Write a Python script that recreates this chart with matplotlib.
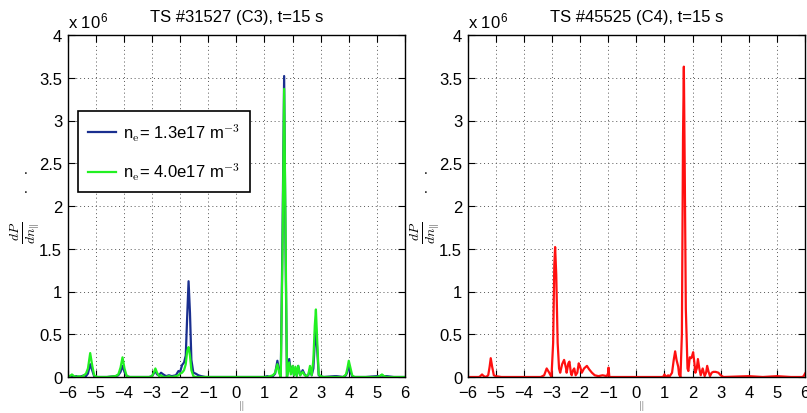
import numpy as np
import matplotlib
matplotlib.use('Agg')
import matplotlib.pyplot as plt

plt.rcParams['font.family'] = ['Liberation Sans', 'DejaVu Sans']
plt.rcParams['mathtext.fontset'] = 'cm'

# ---- data (power spectra, units of 1e6) ----
npar_c3 = [-6.0, -5.92, -5.85, -5.78, -5.7, -5.6, -5.5, -5.42, -5.35, -5.28,
           -5.2, -5.13, -5.06, -4.95, -4.6, -4.3, -4.2, -4.12, -4.05, -3.98,
           -3.9, -3.8, -3.4, -3.1, -3.0, -2.94, -2.88, -2.82, -2.75, -2.68,
           -2.6, -2.5, -2.4, -2.3, -2.15, -2.06, -2.0, -1.93, -1.86, -1.8,
           -1.75, -1.7, -1.65, -1.6, -1.53, -1.45, -1.35, -1.25, -1.1, -0.5,
           0.0, 0.5, 1.0, 1.1, 1.2, 1.3, 1.38, 1.46, 1.52, 1.58,
           1.64, 1.70, 1.75, 1.8, 1.84, 1.88, 1.94, 2.0, 2.05, 2.1,
           2.15, 2.2, 2.27, 2.36, 2.43, 2.5, 2.56, 2.62, 2.68, 2.74,
           2.79, 2.83, 2.88, 2.93, 3.0, 3.1, 3.5, 3.57, 3.8, 3.9,
           3.95, 4.0, 4.05, 4.12, 4.2, 4.6, 5.0, 5.1, 5.18, 5.25,
           5.35, 5.6, 6.0]
dp_low = [0.01, 0.0, 0.02, 0.0, 0.01, 0.0, 0.01, 0.02, 0.01, 0.04,
          0.15, 0.08, 0.01, 0.0, 0.0, 0.01, 0.02, 0.06, 0.13, 0.06,
          0.01, 0.0, 0.0, 0.0, 0.01, 0.04, 0.07, 0.03, 0.02, 0.05,
          0.03, 0.01, 0.02, 0.01, 0.02, 0.07, 0.06, 0.14, 0.17, 0.25,
          0.7, 1.12, 0.75, 0.2, 0.05, 0.04, 0.02, 0.01, 0.0, 0.0,
          0.0, 0.0, 0.0, 0.01, 0.0, 0.01, 0.04, 0.19, 0.08, 0.0,
          1.6, 3.52, 1.5, 0.0, 0.08, 0.21, 0.06, 0.12, 0.02, 0.1,
          0.02, 0.13, 0.02, 0.08, 0.03, 0.01, 0.02, 0.09, 0.02, 0.1,
          0.4, 0.58, 0.3, 0.02, 0.01, 0.0, 0.01, 0.01, 0.0, 0.02,
          0.06, 0.13, 0.07, 0.01, 0.0, 0.0, 0.01, 0.01, 0.02, 0.01,
          0.01, 0.0, 0.0]
dp_high = [0.02, 0.01, 0.03, 0.01, 0.0, 0.01, 0.0, 0.02, 0.04, 0.1,
           0.28, 0.14, 0.02, 0.0, 0.0, 0.01, 0.03, 0.11, 0.23, 0.1,
           0.01, 0.0, 0.0, 0.0, 0.01, 0.05, 0.1, 0.05, 0.01, 0.02,
           0.0, 0.0, 0.01, 0.0, 0.01, 0.02, 0.04, 0.05, 0.08, 0.15,
           0.3, 0.35, 0.25, 0.08, 0.01, 0.0, 0.0, 0.0, 0.0, 0.0,
           0.0, 0.0, 0.0, 0.0, 0.01, 0.02, 0.05, 0.15, 0.05, 0.0,
           1.4, 3.37, 1.7, 0.0, 0.06, 0.17, 0.03, 0.13, 0.02, 0.12,
           0.01, 0.13, 0.02, 0.06, 0.02, 0.01, 0.03, 0.13, 0.02, 0.2,
           0.6, 0.79, 0.4, 0.03, 0.01, 0.0, 0.0, 0.0, 0.0, 0.03,
           0.1, 0.19, 0.12, 0.02, 0.0, 0.0, 0.0, 0.01, 0.03, 0.01,
           0.0, 0.0, 0.0]

npar_c4 = [-6.0, -5.6, -5.55, -5.49, -5.43, -5.35, -5.27, -5.22, -5.18, -5.13,
           -5.07, -5.0, -4.8, -4.0, -3.4, -3.28, -3.19, -3.1, -3.02, -2.96,
           -2.92, -2.89, -2.85, -2.8, -2.75, -2.71, -2.64, -2.57, -2.5, -2.48,
           -2.42, -2.38, -2.33, -2.3, -2.25, -2.21, -2.16, -2.1, -2.05, -2.0,
           -1.94, -1.86, -1.76, -1.68, -1.58, -1.48, -1.35, -1.2, -1.05, -1.0,
           -0.99, -0.96, -0.5, 0.5, 0.95, 1.0, 1.06, 1.13, 1.17, 1.21,
           1.27, 1.33, 1.38, 1.43, 1.49, 1.52, 1.57, 1.62, 1.66, 1.69,
           1.72, 1.76, 1.82, 1.85, 1.9, 1.95, 1.98, 2.02, 2.06, 2.1,
           2.15, 2.19, 2.24, 2.29, 2.36, 2.43, 2.48, 2.52, 2.57, 2.62,
           2.68, 2.74, 2.82, 2.92, 3.0, 3.1, 4.0, 4.5, 5.0, 5.5,
           5.9, 5.95, 6.0]
dp_c4 = [0.0, 0.0, 0.01, 0.03, 0.01, 0.0, 0.02, 0.12, 0.22, 0.12,
         0.02, 0.01, 0.0, 0.0, 0.0, 0.02, 0.1, 0.05, 0.0, 0.4,
         1.3, 1.52, 1.2, 0.4, 0.1, 0.05, 0.15, 0.2, 0.1, 0.05,
         0.16, 0.18, 0.05, 0.02, 0.08, 0.1, 0.02, 0.05, 0.16, 0.12,
         0.05, 0.1, 0.13, 0.09, 0.05, 0.02, 0.01, 0.02, 0.01, 0.05,
         0.11, 0.0, 0.0, 0.0, 0.0, 0.03, 0.0, 0.02, 0.0, 0.02,
         0.05, 0.2, 0.3, 0.2, 0.12, 0.03, 0.0, 0.5, 2.8, 3.63,
         2.5, 0.8, 0.1, 0.07, 0.23, 0.22, 0.24, 0.29, 0.18, 0.05,
         0.1, 0.21, 0.1, 0.02, 0.1, 0.01, 0.05, 0.13, 0.06, 0.01,
         0.05, 0.06, 0.06, 0.05, 0.02, 0.0, 0.01, 0.0, 0.01, 0.0,
         0.0, 0.01, 0.04]

labels = [r'n$_{\rm e}$= 1.3e17 m$^{-3}$', r'n$_{\rm e}$= 4.0e17 m$^{-3}$']
titles = ['TS #31527 (C3), t=15 s', 'TS #45525 (C4), t=15 s']
xticks = np.arange(-6, 7, 1)
yticks = np.arange(0, 4.5, 0.5)

W, H = 807, 414
fig = plt.figure(figsize=(W / 100, H / 100), dpi=100)
ax1 = fig.add_axes([67.7 / W, 36 / H, 337.3 / W, 342 / H])
ax2 = fig.add_axes([467.7 / W, 36 / H, 337.3 / W, 342 / H])

ax1.plot(npar_c3, dp_low, color='#1a2f8f', lw=1.6, label=labels[0])
ax1.plot(npar_c3, dp_high, color='#22f022', lw=1.6, label=labels[1])
ax2.plot(npar_c4, dp_c4, color='#ff1010', lw=1.6)

for ax, ttl, xpx in [(ax1, titles[0], 0), (ax2, titles[1], 400)]:
    ax.set_xlim(-6, 6)
    ax.set_ylim(0, 4)
    ax.set_xticks(xticks)
    ax.set_yticks(yticks)
    ax.set_yticklabels(['0', '0.5', '1', '1.5', '2', '2.5', '3', '3.5', '4'])
    ax.grid(True, linestyle=(0, (1, 3)), color='#555555', linewidth=0.7)
    ax.tick_params(direction='in', length=5, width=0.8, top=True, right=True,
                   labelsize=12, pad=4)
    ax.tick_params(axis='x', pad=6)
    for s in ax.spines.values():
        s.set_linewidth(1.0)
    ax.set_title(ttl, fontsize=12, pad=10)
    ax.text(0.0, 1.012, r'x 10$^{\mathregular{6}}$', transform=ax.transAxes,
            fontsize=12, ha='left', va='bottom')
    # y label (fraction) plus stray dots, x label
    fig.text((xpx + 26) / W, 1 - 233 / H, r'$\frac{dP}{dn_{\|}}$', rotation=90,
             fontsize=14, ha='center', va='center')
    fig.text((xpx + 26) / W, 1 - 170 / H, '.', fontsize=10,
             ha='center', va='center')
    fig.text((xpx + 26) / W, 1 - 189 / H, '.', fontsize=10,
             ha='center', va='center')
    fig.text((xpx + 241) / W, 1 - 406.5 / H, r'$\|$', fontsize=8, color='#555555',
             ha='center', va='center')

leg = ax1.legend(loc='upper left', bbox_to_anchor=(0.0305, 0.778), borderaxespad=0,
                 fontsize=12, fancybox=False, framealpha=1, edgecolor='black',
                 handlelength=1.7, handletextpad=0.4, labelspacing=1.1, borderpad=0.6)
leg.get_frame().set_linewidth(1.2)

fig.savefig('out.png', dpi=100)
